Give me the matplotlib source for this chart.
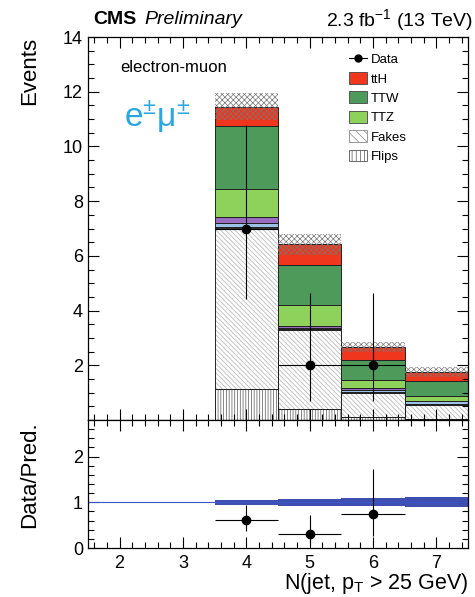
import matplotlib
matplotlib.use("Agg")
import matplotlib.pyplot as plt
from matplotlib.patches import Patch
from matplotlib.lines import Line2D
from matplotlib.ticker import MultipleLocator
import numpy as np

plt.rcParams['font.family'] = ['Liberation Sans', 'DejaVu Sans']
plt.rcParams['mathtext.fontset'] = 'custom'
plt.rcParams['mathtext.rm'] = 'Liberation Sans'
plt.rcParams['mathtext.it'] = 'Liberation Sans:italic'
plt.rcParams['hatch.linewidth'] = 0.5

# N(jet) bins
njet = [4, 5, 6, 7]

# stacked backgrounds (bottom -> top)
flips = [1.15, 0.42, 0.10, 0.03]
fakes = [5.83, 2.86, 0.88, 0.52]
other = [0.07, 0.05, 0.04, 0.03]
rares = [0.15, 0.03, 0.08, 0.12]
ttww = [0.22, 0.06, 0.06, 0.00]
ttz = [1.02, 0.77, 0.31, 0.17]
ttw = [2.32, 1.48, 0.72, 0.55]
tth = [0.69, 0.75, 0.49, 0.33]
tot_unc = [0.50, 0.38, 0.18, 0.17]

# data (last bin has no events)
data_x = [4, 5, 6]
data_y = [7, 2, 2]
data_lo = [2.58, 1.29, 1.29]
data_hi = [3.77, 2.64, 2.64]

# ratio panel
ratio_y = [0.61, 0.31, 0.75]
ratio_lo = [0.23, 0.20, 0.48]
ratio_hi = [0.33, 0.41, 0.98]
ratio_unc = [0.05, 0.07, 0.09, 0.11]

fig = plt.figure(figsize=(4.75, 5.97), dpi=100)
ax = fig.add_axes([0.185, 0.2965, 0.80, 0.6415])
rax = fig.add_axes([0.185, 0.082, 0.80, 0.2145])

layers = [
    (flips, 'white', '||||||', '#555555'),
    (fakes, 'white', '\\\\\\\\\\\\\\', '#b0b0b0'),
    (other, '#333333', None, None),
    (rares, '#9cc3e6', None, None),
    (ttww, '#9a6cc0', None, None),
    (ttz, '#8ed25c', None, None),
    (ttw, '#4e9a5a', None, None),
    (tth, '#f0361c', None, None),
]

bottom = np.zeros(len(njet))
for vals, fc, hatch, hc in layers:
    if hatch:
        ax.bar(njet, vals, width=1.0, bottom=bottom, facecolor=fc,
               hatch=hatch, edgecolor=hc, linewidth=0)
    else:
        ax.bar(njet, vals, width=1.0, bottom=bottom, facecolor=fc, linewidth=0)
    ax.bar(njet, vals, width=1.0, bottom=bottom, fill=False,
           edgecolor='#222222', linewidth=0.7)
    bottom = bottom + np.array(vals)

total = bottom
unc = np.array(tot_unc)
ax.bar(njet, 2 * unc, width=1.0, bottom=total - unc, fill=False,
       hatch='xxxxxx', edgecolor='#777777', linewidth=0)

ax.errorbar(data_x, data_y, yerr=[data_lo, data_hi], xerr=0.5, fmt='o',
            color='black', markersize=6, elinewidth=0.8, capsize=0)

ax.set_xlim(1.5, 7.5)
ax.set_ylim(0, 14)
ax.yaxis.set_major_locator(MultipleLocator(2))
ax.yaxis.set_minor_locator(MultipleLocator(0.5))
ax.xaxis.set_major_locator(MultipleLocator(1))
ax.xaxis.set_minor_locator(MultipleLocator(0.2))
ax.set_xticklabels([])
ax.set_yticks([2, 4, 6, 8, 10, 12, 14])

# ratio panel
rax.axhline(1, color='#3a55c8', linewidth=0.8)
runc = np.array(ratio_unc)
rax.bar(njet, 2 * runc, width=1.0, bottom=1 - runc, color='#3f4fb0', linewidth=0)
rax.errorbar(data_x, ratio_y, yerr=[ratio_lo, ratio_hi], xerr=0.5, fmt='o',
             color='black', markersize=6, elinewidth=0.8, capsize=0)
rax.set_xlim(1.5, 7.5)
rax.set_ylim(0, 2.8)
rax.yaxis.set_major_locator(MultipleLocator(1))
rax.yaxis.set_minor_locator(MultipleLocator(0.2))
rax.xaxis.set_major_locator(MultipleLocator(1))
rax.xaxis.set_minor_locator(MultipleLocator(0.2))

for a in (ax, rax):
    a.tick_params(which='both', direction='in', top=True, right=True,
                  labelsize=13, width=0.8)
    a.tick_params(which='major', length=8)
    a.tick_params(which='minor', length=4)
    for s in a.spines.values():
        s.set_linewidth(0.9)
rax.tick_params(axis='x', pad=5)

# legend
handles = [
    Line2D([], [], color='black', marker='o', markersize=5, linewidth=0.8),
    Patch(facecolor='#f0361c', edgecolor='#444444', linewidth=0.6),
    Patch(facecolor='#4e9a5a', edgecolor='#444444', linewidth=0.6),
    Patch(facecolor='#8ed25c', edgecolor='#444444', linewidth=0.6),
    Patch(facecolor='white', edgecolor='#888888', hatch='\\\\\\\\', linewidth=0.6),
    Patch(facecolor='white', edgecolor='#555555', hatch='||||', linewidth=0.6),
]
labels = ['Data', 'ttH', 'TTW', 'TTZ', 'Fakes', 'Flips']
ax.legend(handles, labels, loc='upper left', bbox_to_anchor=(0.655, 0.99),
          frameon=False, fontsize=9.5, handlelength=1.4, handleheight=1.0,
          labelspacing=0.45, handletextpad=0.3)

# texts
fig.text(93 / 475, 1 - 20 / 597, 'CMS', fontsize=14, fontweight='bold', va='center')
fig.text(144 / 475, 1 - 20 / 597, 'Preliminary', fontsize=14, style='italic', va='center')
fig.text(473 / 475, 1 - 20 / 597, '2.3 fb$^{-1}$ (13 TeV)', fontsize=14,
         ha='right', va='center')
fig.text(120 / 475, 1 - 67 / 597, 'electron-muon', fontsize=12, va='center')
fig.text(124 / 475, 1 - 117 / 597, 'e$^{\\mathregular{\u00b1}}$\u03bc$^{\\mathregular{\u00b1}}$',
         fontsize=24, color='#2aa7e0', va='center')
fig.text(0.063, 1 - 37 / 597, 'Events', fontsize=16, rotation=90, ha='center', va='top')
fig.text(0.063, 1 - 475 / 597, 'Data/Pred.', fontsize=16, rotation=90,
         ha='center', va='center')
fig.text(468 / 475, 1 - 583 / 597, 'N(jet, p$_{\\mathregular{T}}$ > 25 GeV)', fontsize=15.5,
         ha='right', va='center')

fig.savefig('out.png', dpi=100)
